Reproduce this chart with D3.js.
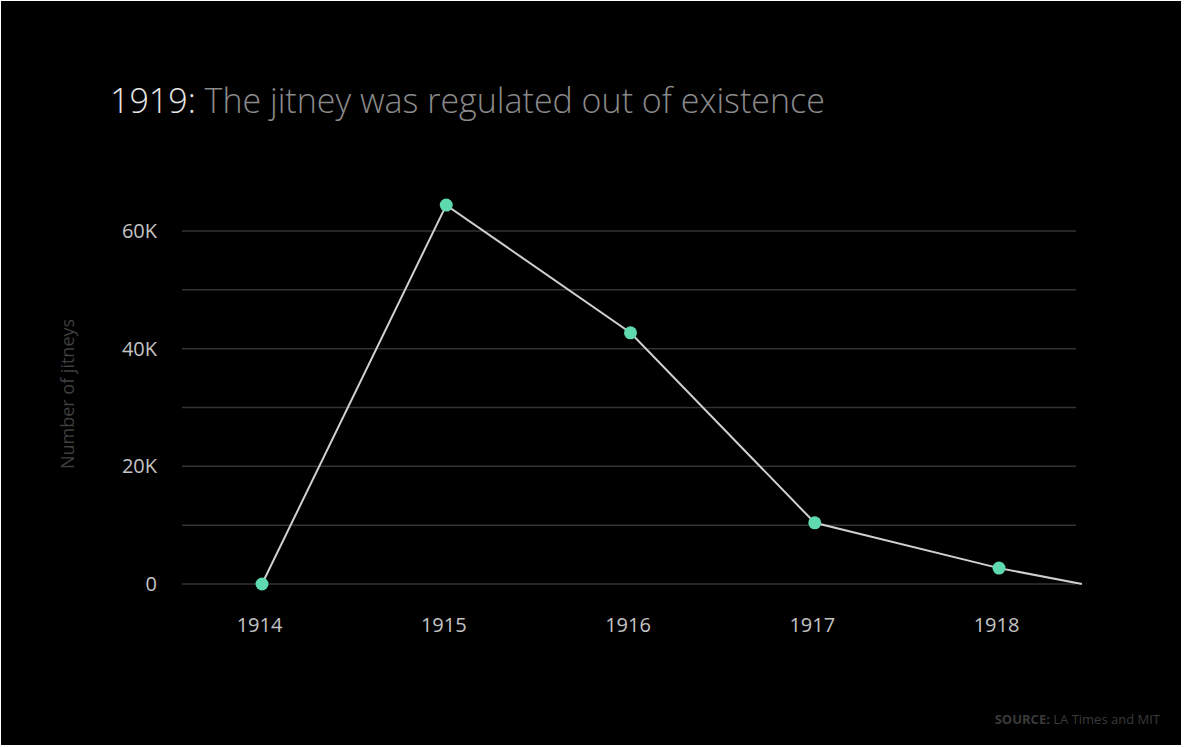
<!DOCTYPE html>
<html>
<head>
<meta charset="utf-8">
<script src="https://cdn.jsdelivr.net/npm/d3@7"></script>
<style>
  body { margin: 0; background: #fff; }
  svg { display: block; }
  text { font-family: "Open Sans", "Noto Sans", sans-serif; }
</style>
</head>
<body>
<svg id="chart"></svg>
<script>
// values
const years = [1914, 1915, 1916, 1917, 1918];
const jitneys = [0, 64400, 42700, 10400, 2700];
// line runs on to the right edge where it reaches zero
const endYear = 1918.45;
const endValue = 0;
const yTicks = [0, 20000, 40000, 60000];
const gridValues = [0, 10000, 20000, 30000, 40000, 50000, 60000];

const width = 1184, height = 747;

const svg = d3.select("#chart").attr("width", width).attr("height", height);

svg.append("rect")
    .attr("x", 1).attr("y", 1)
    .attr("width", 1180).attr("height", 744)
    .attr("fill", "#000");

const x = d3.scaleLinear().domain([1914, 1918]).range([262, 999]);
const y = d3.scaleLinear().domain([0, 60000]).range([584, 231]);

// title
const title = svg.append("text")
    .attr("x", 110)
    .attr("y", 113)
    .style("font-size", "34px")
    .style("font-weight", 300);
title.append("tspan").attr("fill", "#e6e6e6").text("1919:");
title.append("tspan").attr("fill", "#8a8a8a").text(" The jitney was regulated out of existence");

// gridlines
svg.append("g")
    .selectAll("line")
    .data(gridValues)
    .enter().append("line")
    .attr("x1", 182)
    .attr("x2", 1076)
    .attr("y1", d => y(d))
    .attr("y2", d => y(d))
    .attr("stroke", "#333")
    .attr("stroke-width", 1.5);

// y axis labels
const yAxis = svg.append("g")
    .attr("transform", "translate(157,0)")
    .call(d3.axisLeft(y).tickValues(yTicks).tickSize(0).tickPadding(0)
        .tickFormat(d => d === 0 ? "0" : d3.format("~s")(d).replace("k", "K")));
yAxis.select(".domain").remove();
yAxis.selectAll("text")
    .attr("fill", "#c4c4c4")
    .style("font-size", "20px")
    .style("font-family", "\"Open Sans\", sans-serif");

svg.append("text")
    .attr("transform", "translate(74,394) rotate(-90)")
    .attr("text-anchor", "middle")
    .attr("fill", "#3f3f3f")
    .style("font-size", "18px")
    .text("Number of jitneys");

// x axis labels
const xAxis = svg.append("g")
    .attr("transform", "translate(-3,618)")
    .call(d3.axisBottom(x).tickValues(years).tickSize(0).tickPadding(0).tickFormat(d3.format("d")));
xAxis.select(".domain").remove();
xAxis.selectAll("text")
    .attr("fill", "#c4c4c4")
    .style("font-size", "20px")
    .style("font-family", "\"Open Sans\", sans-serif");

// line
const points = years.map((yr, i) => ({ year: yr, value: jitneys[i] }));
const linePoints = points.concat([{ year: endYear, value: endValue }]);

const line = d3.line()
    .x(d => x(d.year))
    .y(d => y(d.value));

svg.append("path")
    .datum(linePoints)
    .attr("d", line)
    .attr("fill", "none")
    .attr("stroke", "#d0d0d0")
    .attr("stroke-width", 2);

svg.append("g")
    .selectAll("circle")
    .data(points)
    .enter().append("circle")
    .attr("cx", d => x(d.year))
    .attr("cy", d => y(d.value))
    .attr("r", 6.5)
    .attr("fill", "#5fd9ae");

// source
const source = svg.append("text")
    .attr("x", 1160)
    .attr("y", 724)
    .attr("text-anchor", "end")
    .attr("fill", "#3a3a3a")
    .style("font-size", "13px");
source.append("tspan").style("font-weight", 700).text("SOURCE:");
source.append("tspan").text("  LA Times and MIT");
</script>
</body>
</html>
